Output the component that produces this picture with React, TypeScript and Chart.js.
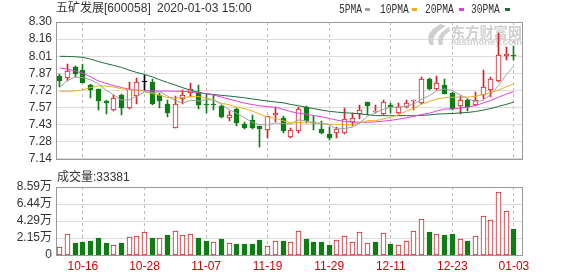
import React, { useEffect, useRef } from "react";
import { Chart, registerables } from "chart.js";
Chart.register(...registerables);

const dates = ["10-11","10-14","10-15","10-16","10-17","10-18","10-21","10-22","10-23","10-24","10-25","10-28","10-29","10-30","10-31","11-01","11-04","11-05","11-06","11-07","11-08","11-11","11-12","11-13","11-14","11-15","11-18","11-19","11-20","11-21","11-22","11-25","11-26","11-27","11-28","11-29","12-02","12-03","12-04","12-05","12-06","12-09","12-10","12-11","12-12","12-13","12-16","12-17","12-18","12-19","12-20","12-23","12-24","12-25","12-26","12-27","12-30","12-31","01-02","01-03"];
const opens = [7.838,7.825,7.917,7.895,7.765,7.73,7.632,7.55,7.68,7.571,7.674,7.793,7.793,7.68,7.607,7.40,7.65,7.698,7.707,7.60,7.60,7.591,7.485,7.56,7.437,7.47,7.415,7.388,7.515,7.49,7.323,7.375,7.58,7.45,7.39,7.35,7.36,7.36,7.45,7.518,7.623,7.535,7.518,7.60,7.531,7.58,7.632,7.612,7.82,7.733,7.769,7.70,7.585,7.64,7.60,7.68,7.725,7.80,8.01,8.02];
const highs = [7.855,7.94,7.93,7.94,7.775,7.735,7.636,7.685,7.69,7.795,7.822,7.85,7.82,7.698,7.64,7.672,7.722,7.779,7.77,7.69,7.68,7.60,7.545,7.572,7.455,7.515,7.42,7.505,7.58,7.505,7.40,7.58,7.59,7.50,7.46,7.41,7.41,7.57,7.53,7.60,7.625,7.60,7.635,7.61,7.612,7.64,7.642,7.834,7.825,7.842,7.82,7.71,7.675,7.65,7.705,7.895,7.834,8.206,8.085,8.095];
const lows = [7.745,7.796,7.833,7.78,7.655,7.558,7.52,7.545,7.512,7.565,7.607,7.712,7.60,7.571,7.496,7.40,7.607,7.66,7.563,7.53,7.55,7.483,7.462,7.42,7.39,7.39,7.24,7.315,7.45,7.36,7.32,7.36,7.44,7.38,7.35,7.30,7.315,7.35,7.42,7.48,7.515,7.53,7.51,7.53,7.52,7.57,7.555,7.607,7.725,7.725,7.69,7.555,7.52,7.545,7.585,7.65,7.665,7.79,7.975,7.976];
const closes = [7.80,7.887,7.855,7.785,7.72,7.631,7.617,7.652,7.571,7.728,7.793,7.793,7.607,7.631,7.53,7.607,7.68,7.736,7.596,7.592,7.595,7.491,7.51,7.44,7.405,7.40,7.39,7.50,7.525,7.378,7.385,7.564,7.46,7.44,7.356,7.32,7.39,7.477,7.49,7.558,7.585,7.54,7.623,7.575,7.577,7.612,7.64,7.82,7.733,7.779,7.693,7.563,7.64,7.578,7.64,7.753,7.82,8.017,8.03,8.01];
const prevClose = 7.76;
const volumes = [9600,26000,15000,16300,17600,21300,15000,12100,15000,23000,23800,28500,21300,22000,24700,30000,25000,26000,21300,18000,16300,20000,15000,13800,13800,13800,18800,11300,17600,17600,16300,30500,20000,16300,16300,12600,18800,23400,16300,28900,15000,16300,27200,13800,12600,17600,30000,46000,28900,26400,25000,26400,20000,17600,23400,49800,44000,80000,55000,33381];
const ma5 = [7.75,7.805,7.834,7.828,7.809,7.776,7.722,7.681,7.638,7.64,7.672,7.707,7.698,7.71,7.671,7.634,7.611,7.637,7.63,7.642,7.64,7.602,7.557,7.526,7.488,7.449,7.429,7.427,7.444,7.439,7.436,7.47,7.462,7.445,7.441,7.428,7.393,7.397,7.407,7.447,7.50,7.53,7.559,7.576,7.58,7.585,7.605,7.645,7.676,7.717,7.733,7.718,7.682,7.651,7.623,7.635,7.686,7.762,7.852,7.926];
const ma10 = [7.712,7.712,7.715,7.725,7.745,7.758,7.757,7.748,7.735,7.725,7.724,7.715,7.695,7.678,7.66,7.655,7.66,7.667,7.668,7.657,7.638,7.61,7.598,7.578,7.566,7.545,7.518,7.493,7.484,7.463,7.443,7.449,7.445,7.444,7.44,7.433,7.432,7.43,7.427,7.444,7.464,7.463,7.478,7.492,7.514,7.543,7.568,7.602,7.626,7.648,7.659,7.662,7.663,7.664,7.67,7.684,7.702,7.722,7.751,7.774];
const ma20 = [7.91,7.90,7.885,7.865,7.835,7.80,7.78,7.76,7.745,7.73,7.722,7.718,7.715,7.714,7.714,7.713,7.712,7.71,7.70,7.692,7.681,7.663,7.646,7.629,7.612,7.6,7.589,7.582,7.577,7.56,7.54,7.527,7.518,7.507,7.497,7.482,7.468,7.457,7.451,7.45,7.45,7.453,7.459,7.466,7.476,7.487,7.5,7.516,7.526,7.546,7.562,7.562,7.571,7.577,7.592,7.613,7.635,7.662,7.689,7.711];
const ma30 = [8.009,8.008,8.005,8.0,7.985,7.965,7.948,7.932,7.915,7.892,7.872,7.856,7.835,7.81,7.787,7.765,7.742,7.722,7.703,7.692,7.685,7.678,7.672,7.665,7.657,7.648,7.638,7.63,7.622,7.615,7.601,7.59,7.577,7.566,7.553,7.543,7.536,7.53,7.527,7.521,7.514,7.506,7.506,7.505,7.506,7.506,7.505,7.508,7.512,7.519,7.522,7.524,7.529,7.533,7.541,7.553,7.567,7.584,7.601,7.622];
const priceTicks = [8.30, 8.155, 8.01, 7.865, 7.72, 7.575, 7.43, 7.285, 7.14];
const priceTickLabels = ["8.30","8.16","8.01","7.87","7.72","7.57","7.43","7.28","7.14"];
const volTicks = [0, 21475, 42950, 64425, 85900];
const volTickLabels = ["0","2.15万","4.29万","6.44万","8.59万"];
const labelDates = ["10-16","10-28","11-07","11-19","11-29","12-11","12-23","01-03"];
const legendNames = ["5PMA","10PMA","20PMA","30PMA"];
const titleName = "五矿发展[600058]";
const titleTime = "2020-01-03 15:00";
const volTitle = "成交量:33381";

const RED = "#dc1e24";
const GREEN = "#0e7d14";
const MA_COLORS = ["#a0a0a0", "#f0ae1e", "#e23ee0", "#1f6b3a"];
const FONT = "'Liberation Sans', 'Noto Sans CJK SC', sans-serif";

// snap bar elements to whole pixels so the 1px borders stay crisp
const pixelSnap = {
  id: "pixelSnap",
  afterDatasetsUpdate(chart: any) {
    chart.data.datasets.forEach((_: any, di: number) => {
      const meta = chart.getDatasetMeta(di);
      if (meta.type !== "bar") return;
      meta.data.forEach((el: any) => {
        el.x = Math.floor(el.x) + 0.5;
        el.y = Math.round(el.y);
        el.base = Math.round(el.base);
        if (el.y === el.base) el.y = el.base - 1;
      });
    });
  },
};

export default function App() {
  const mainRef = useRef<HTMLCanvasElement>(null);
  const volRef = useRef<HTMLCanvasElement>(null);

  useEffect(() => {
    const idx = closes.map((_, i) => i);
    const tickIdx = labelDates.map((d) => dates.indexOf(d));
    const up = idx.map((i) => closes[i] > opens[i]);
    const flat = idx.map((i) => closes[i] === opens[i]);
    const cColor = idx.map((i) => (flat[i] ? "#000000" : up[i] ? RED : GREEN));
    const volUp = idx.map((i) => closes[i] >= (i === 0 ? prevClose : closes[i - 1]));

    const xScale = (show: boolean): any => ({
      type: "linear",
      min: -0.5,
      max: 60.05,
      offset: false,
      afterBuildTicks: (s: any) => {
        s.ticks = tickIdx.map((v) => ({ value: v }));
      },
      afterFit: (s: any) => {
        s.height = show ? 21 : 0;
      },
      grid: { offset: false, color: "#bdbdbd", drawTicks: false, lineWidth: 1 },
      border: { display: false, dash: [3, 3] },
      ticks: {
        display: show,
        autoSkip: false,
        maxRotation: 0,
        padding: 4,
        color: "#d00000",
        font: { family: FONT, size: 12 },
        callback: (v: any) => {
          const k = tickIdx.indexOf(Math.round(Number(v)));
          return k >= 0 ? labelDates[k] : "";
        },
      },
    });

    const yScale = (min: number, max: number, ticks: number[], labels: string[]): any => ({
      type: "linear",
      min,
      max,
      afterBuildTicks: (s: any) => {
        s.ticks = ticks.map((v) => ({ value: v }));
      },
      afterFit: (s: any) => {
        s.width = 56;
      },
      grid: { color: "#dcdcdc", drawTicks: false, lineWidth: 1 },
      border: { display: false },
      ticks: {
        padding: 4,
        autoSkip: false,
        color: "#333333",
        font: { family: FONT, size: 12 },
        callback: (v: any) => {
          const k = ticks.findIndex((t) => Math.abs(t - Number(v)) < 1e-6);
          return k >= 0 ? labels[k] : "";
        },
      },
    });

    const drawBorder = (chart: any) => {
      const { ctx, chartArea: a } = chart;
      ctx.save();
      ctx.strokeStyle = "#9a9a9a";
      ctx.lineWidth = 1;
      ctx.strokeRect(Math.round(a.left) + 0.5, Math.round(a.top) + 0.5, Math.round(a.right - a.left), Math.round(a.bottom - a.top));
      ctx.restore();
    };

    const mainDeco = {
      id: "mainDeco",
      beforeDatasetsDraw(chart: any) {
        const ctx = chart.ctx;
        ctx.save();
        ctx.fillStyle = "#d0d0d0";
        ctx.beginPath();
        ctx.moveTo(441, 24);
        ctx.quadraticCurveTo(423, 33, 430, 45);
        ctx.lineTo(434, 45);
        ctx.quadraticCurveTo(430, 35, 446, 26);
        ctx.closePath();
        ctx.fill();
        ctx.beginPath();
        ctx.moveTo(449, 27);
        ctx.quadraticCurveTo(435, 35, 439, 45);
        ctx.lineTo(443, 45);
        ctx.quadraticCurveTo(441, 36, 450, 31);
        ctx.closePath();
        ctx.fill();
        ctx.font = "bold 15px 'Noto Sans CJK SC', sans-serif";
        ctx.textBaseline = "middle";
        ctx.textAlign = "left";
        const cn = "东方财富网";
        const cw = ctx.measureText(cn).width;
        ctx.save();
        ctx.translate(451, 32);
        ctx.scale(71 / cw, 1);
        ctx.fillText(cn, 0, 0);
        ctx.restore();
        ctx.font = "bold 9px 'Liberation Sans', sans-serif";
        const t = "eastmoney.com";
        const w = ctx.measureText(t).width;
        ctx.translate(451, 42.5);
        ctx.scale(71 / w, 1);
        ctx.fillText(t, 0, 0);
        ctx.restore();
      },
      afterDraw(chart: any) {
        const ctx = chart.ctx;
        drawBorder(chart);
        ctx.save();
        ctx.fillStyle = "#333333";
        ctx.textBaseline = "middle";
        ctx.textAlign = "left";
        ctx.font = "12px " + FONT;
        ctx.fillText(titleName, 56, 9);
        ctx.fillText(titleTime, 157, 9);
        const textX = [339, 380, 425, 471];
        const dashX = [365, 412, 459, 505];
        legendNames.forEach((n, k) => {
          ctx.save();
          ctx.font = "12px 'Liberation Mono', monospace";
          ctx.fillStyle = "#333333";
          ctx.translate(textX[k], 9.5);
          ctx.scale(0.8, 1);
          ctx.fillText(n, 0, 0);
          ctx.restore();
          ctx.fillStyle = MA_COLORS[k];
          ctx.fillRect(dashX[k], 8, 5, 3);
        });
        ctx.restore();
      },
    };

    const volDeco = {
      id: "volDeco",
      afterDraw(chart: any) {
        const ctx = chart.ctx;
        drawBorder(chart);
        ctx.save();
        ctx.fillStyle = "#333333";
        ctx.textBaseline = "middle";
        ctx.textAlign = "left";
        ctx.font = "12px " + FONT;
        ctx.fillText(volTitle, 57, 8);
        ctx.restore();
      },
    };

    const maSets = [ma5, ma10, ma20, ma30].map((arr, k) => ({
      type: "line",
      data: idx.map((i) => ({ x: i, y: arr[i] })),
      borderColor: MA_COLORS[k],
      borderWidth: 1,
      pointRadius: 0,
      tension: 0,
      fill: false,
      order: 0,
    }));

    const main = new Chart(mainRef.current as HTMLCanvasElement, {
      type: "line",
      data: {
        datasets: [
          ...maSets,
          {
            type: "bar",
            data: idx.map((i) => ({ x: i, y: [opens[i], closes[i]] })),
            backgroundColor: idx.map((i) => (up[i] ? "#ffffff" : cColor[i])),
            borderColor: cColor,
            borderWidth: 1,
            borderSkipped: false,
            barThickness: 5,
            minBarLength: 1,
            grouped: false,
            order: 1,
          },
          {
            type: "bar",
            data: idx.map((i) => ({ x: i, y: [lows[i], highs[i]] })),
            backgroundColor: cColor,
            borderWidth: 0,
            barThickness: 1,
            grouped: false,
            order: 2,
          },
        ] as any,
      },
      options: {
        responsive: false,
        animation: false,
        events: [],
        layout: { padding: { top: 22, right: 56, bottom: 5, left: 0 } },
        plugins: { legend: { display: false }, tooltip: { enabled: false } },
        scales: {
          x: xScale(false),
          y: yScale(7.14, 8.3, priceTicks, priceTickLabels),
        },
      } as any,
      plugins: [pixelSnap, mainDeco],
    });

    const vol = new Chart(volRef.current as HTMLCanvasElement, {
      type: "bar",
      data: {
        datasets: [
          {
            data: idx.map((i) => ({ x: i, y: volumes[i] })),
            backgroundColor: idx.map((i) => (volUp[i] ? "#ffffff" : GREEN)),
            borderColor: idx.map((i) => (volUp[i] ? RED : GREEN)),
            borderWidth: 1,
            borderSkipped: false,
            barThickness: 5,
            grouped: false,
          },
        ] as any,
      },
      options: {
        responsive: false,
        animation: false,
        events: [],
        layout: { padding: { top: 17, right: 56, bottom: 0, left: 0 } },
        plugins: { legend: { display: false }, tooltip: { enabled: false } },
        scales: {
          x: xScale(true),
          y: yScale(0, 85900, volTicks, volTickLabels),
        },
      } as any,
      plugins: [pixelSnap, volDeco],
    });

    return () => {
      main.destroy();
      vol.destroy();
    };
  }, []);

  return (
    <div style={{ position: "fixed", left: 0, top: 0, width: 578, height: 276, background: "#ffffff" }}>
      <canvas ref={mainRef} width={578} height={170} style={{ position: "absolute", left: 0, top: 0, width: 578, height: 170 }} />
      <canvas ref={volRef} width={578} height={106} style={{ position: "absolute", left: 0, top: 170, width: 578, height: 106 }} />
    </div>
  );
}
